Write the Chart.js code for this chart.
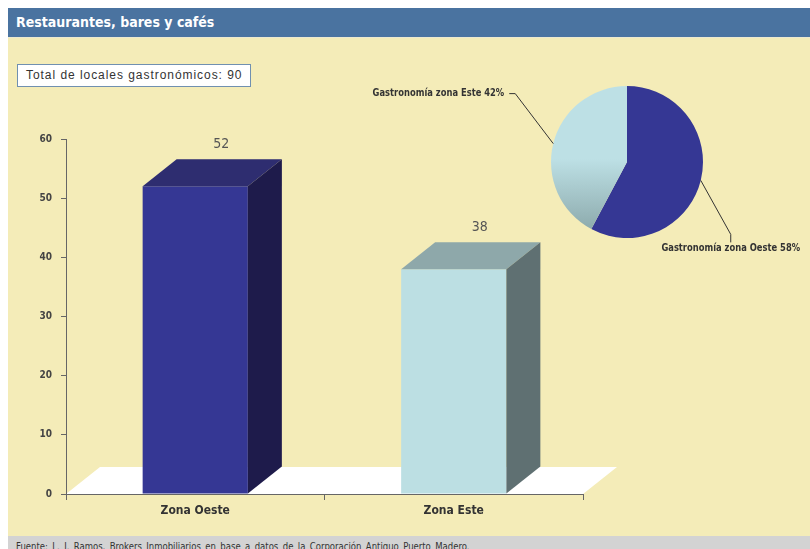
<!DOCTYPE html>
<html>
<head>
<meta charset="utf-8">
<script src="https://cdn.jsdelivr.net/npm/chart.js@4.4.1/dist/chart.umd.min.js"></script>
<style>
  html, body { margin:0; padding:0; background:#ffffff; width:810px; height:549px; overflow:hidden; }
  #titlebar { position:absolute; left:8px; top:8px; width:802px; height:29px; background:#4a73a0;
    color:#ffffff; font:bold 14px 'Liberation Sans Narrow','DejaVu Sans Condensed',sans-serif; line-height:29px;
    padding-left:8px; box-sizing:border-box; }
  #panel { position:absolute; left:8px; top:37px; width:802px; height:499px; background:#f4ecb8; border-top:1px solid #ece9cf; box-sizing:border-box; }
  #footer { position:absolute; left:8px; top:536px; width:802px; height:13px; background:#d3d3d3; overflow:hidden;
    font:11px 'Liberation Sans Narrow','DejaVu Sans Condensed',sans-serif; color:#333; padding-left:8px; box-sizing:border-box;
    line-height:13px; padding-top:4px; white-space:nowrap; }
  #footer span { display:inline-block; transform:scaleX(0.86); transform-origin:0 0; word-spacing:2px; }
  #total { position:absolute; left:17px; top:64px; width:234px; height:23px; background:#ffffff; border:1px solid #7090b0;
    box-sizing:border-box; font:12px 'Liberation Sans',Arial,sans-serif; color:#333; line-height:21px; padding-left:8px; letter-spacing:0.95px; white-space:nowrap; }
  #bars { position:absolute; left:0; top:0; }
  #pie { position:absolute; left:360px; top:75px; }
</style>
</head>
<body>
<div id="titlebar">Restaurantes, bares y cafés</div>
<div id="panel"></div>
<div id="total">Total de locales gastronómicos: 90</div>
<div id="footer"><span>Fuente: L. J. Ramos, Brokers Inmobiliarios en base a datos de la Corporación Antiguo Puerto Madero.</span></div>
<canvas id="bars" width="810" height="549"></canvas>
<canvas id="pie" width="450" height="185"></canvas>
<script>
// ---- data ----
const categories = ['Zona Oeste', 'Zona Este'];
const locales = [52, 38];
const pieLabels = ['Gastronomía zona Oeste', 'Gastronomía zona Este'];
const yTicks = [0, 10, 20, 30, 40, 50, 60];

// ---- styles ----
const NARROW = "'Liberation Sans Narrow','DejaVu Sans Condensed',sans-serif";
const frontColors = ['#353794', '#bcdfe3'];
const topColors = ['#2e2d70', '#8ea8aa'];
const sideColors = ['#1e1b4b', '#5f7072'];
const DX = 34, DY = -27;

const bar3d = {
  id: 'bar3d',
  beforeDraw(chart) {
    const { ctx, chartArea } = chart;
    const yb = chart.scales.y.getPixelForValue(0);
    ctx.save();
    ctx.fillStyle = '#ffffff';
    ctx.beginPath();
    ctx.moveTo(chartArea.left, yb);
    ctx.lineTo(chartArea.left + DX, yb + DY);
    ctx.lineTo(chartArea.right + DX, yb + DY);
    ctx.lineTo(chartArea.right, yb);
    ctx.closePath();
    ctx.fill();
    ctx.restore();
  },
  afterDatasetsDraw(chart) {
    const { ctx } = chart;
    const meta = chart.getDatasetMeta(0);
    ctx.save();
    meta.data.forEach((el, i) => {
      const p = el.getProps(['x', 'y', 'width', 'base'], true);
      const l = p.x - p.width / 2, r = p.x + p.width / 2;
      ctx.fillStyle = topColors[i];
      ctx.beginPath();
      ctx.moveTo(l, p.y);
      ctx.lineTo(l + DX, p.y + DY);
      ctx.lineTo(r + DX, p.y + DY);
      ctx.lineTo(r, p.y);
      ctx.closePath();
      ctx.fill();
      ctx.fillStyle = sideColors[i];
      ctx.beginPath();
      ctx.moveTo(r, p.y);
      ctx.lineTo(r + DX, p.y + DY);
      ctx.lineTo(r + DX, p.base + DY);
      ctx.lineTo(r, p.base);
      ctx.closePath();
      ctx.fill();
      ctx.fillStyle = '#555555';
      ctx.font = '14px ' + NARROW;
      ctx.textAlign = 'center';
      ctx.textBaseline = 'middle';
      ctx.fillText(String(locales[i]), p.x + 26, p.y + DY - 15);
    });
    ctx.restore();
  }
};

new Chart(document.getElementById('bars'), {
  type: 'bar',
  data: {
    labels: categories,
    datasets: [{
      data: locales,
      backgroundColor: frontColors,
      borderWidth: 0,
      categoryPercentage: 1.0,
      barPercentage: 0.407
    }]
  },
  options: {
    responsive: false,
    animation: false,
    devicePixelRatio: 1,
    layout: { padding: { top: 139, right: 227, bottom: 15, left: 0 } },
    plugins: { legend: { display: false }, tooltip: { enabled: false } },
    scales: {
      y: {
        min: 0, max: 60,
        afterBuildTicks(s) { s.ticks = yTicks.map(v => ({ value: v })); },
        afterFit(s) { s.width = 66; },
        border: { display: true, color: '#666666', width: 1 },
        grid: { drawOnChartArea: false, drawTicks: true, tickLength: 5, color: '#666666' },
        ticks: { color: '#444444', font: { family: NARROW, size: 10, weight: 'bold' }, padding: 9 }
      },
      x: {
        afterFit(s) { s.height = 40; },
        border: { display: true, color: '#666666', width: 1 },
        grid: { offset: true, drawOnChartArea: false, drawTicks: true, tickLength: 6, color: '#666666' },
        ticks: { color: '#333333', font: { family: NARROW, size: 12, weight: 'bold' }, padding: 4 }
      }
    }
  },
  plugins: [bar3d]
});

// ---- pie ----
const total = locales.reduce((a, b) => a + b, 0);
const pieLeader = {
  id: 'pieLeader',
  afterDraw(chart) {
    const { ctx } = chart;
    const meta = chart.getDatasetMeta(0);
    const cfg = [
      { elbow: [30, 54], tail: [0, 8], align: 'center', textOff: [0, 6] },
      { elbow: [-38, -50], tail: [-6, 0], align: 'right', textOff: [-5, 0] }
    ];
    const SX = 0.93;
    ctx.save();
    ctx.strokeStyle = '#333333';
    ctx.lineWidth = 1;
    ctx.fillStyle = '#333333';
    ctx.font = 'bold 10px ' + NARROW;
    meta.data.forEach((arc, i) => {
      const p = arc.getProps(['x', 'y', 'startAngle', 'endAngle', 'outerRadius'], true);
      const mid = (p.startAngle + p.endAngle) / 2;
      const ax = p.x + Math.cos(mid) * p.outerRadius;
      const ay = p.y + Math.sin(mid) * p.outerRadius;
      const c = cfg[i];
      const ex = ax + c.elbow[0], ey = ay + c.elbow[1];
      const tx = ex + c.tail[0], ty = ey + c.tail[1];
      ctx.beginPath();
      ctx.moveTo(ax, ay);
      ctx.lineTo(ex, ey);
      ctx.lineTo(tx, ty);
      ctx.stroke();
      const pct = Math.round(locales[i] / total * 100);
      ctx.save();
      ctx.translate(tx + c.textOff[0], ty + c.textOff[1]);
      ctx.scale(SX, 1);
      ctx.textAlign = c.align;
      ctx.textBaseline = 'middle';
      ctx.fillText(pieLabels[i] + ' ' + pct + '%', 0, 0);
      ctx.restore();
    });
    ctx.restore();
  }
};

new Chart(document.getElementById('pie'), {
  type: 'pie',
  data: {
    labels: pieLabels,
    datasets: [{
      data: locales,
      borderWidth: 0,
      backgroundColor(context) {
        if (context.dataIndex === 0) return '#353794';
        const { ctx, chartArea } = context.chart;
        if (!chartArea) return '#bde0e5';
        const g = ctx.createLinearGradient(0, chartArea.top, 0, chartArea.bottom);
        g.addColorStop(0, '#bde0e5');
        g.addColorStop(0.48, '#bde0e5');
        g.addColorStop(1, '#87a4a6');
        return g;
      }
    }]
  },
  options: {
    responsive: false,
    animation: false,
    devicePixelRatio: 1,
    layout: { padding: { top: 11, bottom: 22, left: 191, right: 107 } },
    plugins: { legend: { display: false }, tooltip: { enabled: false } }
  },
  plugins: [pieLeader]
});
</script>
</body>
</html>
